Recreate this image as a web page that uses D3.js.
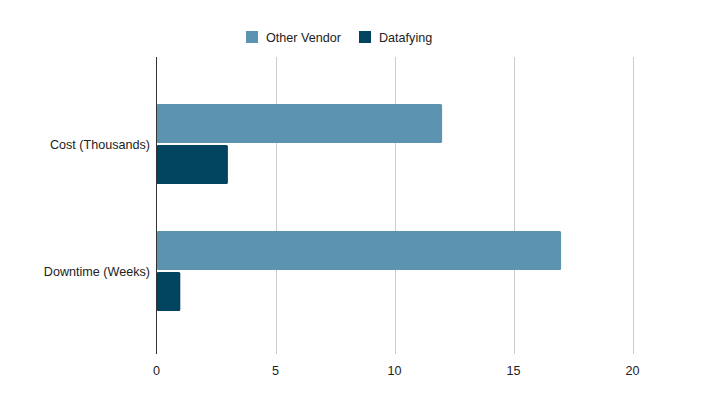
<!DOCTYPE html>
<html><head><meta charset="utf-8">
<script src="https://cdn.jsdelivr.net/npm/d3@7/dist/d3.min.js"></script>
<style>body{margin:0;background:#fff}svg{display:block;font-family:"Liberation Sans",Arial,sans-serif}</style>
</head><body><svg id="c" width="724" height="417"></svg>
<script>
const categories = ["Cost (Thousands)", "Downtime (Weeks)"];
const seriesNames = ["Other Vendor", "Datafying"];
const otherVendor = [12, 17];
const datafying = [3, 1];
const xTicks = [0, 5, 10, 15, 20];
const colors = ["#5b93b0", "#00445f"];
const fs = 12.6;

const svg = d3.select("#c");
const x = d3.scaleLinear().domain([0, 20]).range([156.5, 632.5]);
const y0 = d3.scaleBand().domain(categories).range([80.5, 334.5]);
const y1 = d3.scaleBand().domain(seriesNames).range([-40, 40]).paddingInner(0.05);
const plotTop = 57, plotBottom = 354;

svg.append("g").selectAll("line").data(xTicks.slice(1)).join("line")
  .attr("x1", d => Math.round(x(d)) + 0.5).attr("x2", d => Math.round(x(d)) + 0.5)
  .attr("y1", plotTop).attr("y2", plotBottom).attr("stroke", "#cccccc").attr("stroke-width", 1);

svg.append("g").selectAll("text").data(xTicks).join("text")
  .attr("x", d => x(d)).attr("y", 375).attr("text-anchor", "middle")
  .attr("font-size", fs).attr("fill", "#222").text(d => d);

const data = [otherVendor, datafying];
data.forEach((vals, si) => {
  svg.append("g").selectAll("rect").data(vals).join("rect")
    .attr("x", x(0))
    .attr("y", (d, i) => y0(categories[i]) + y0.bandwidth() / 2 + y1(seriesNames[si]))
    .attr("width", d => x(d) - x(0))
    .attr("height", y1.bandwidth())
    .attr("rx", 1.5)
    .attr("fill", colors[si]);
});

svg.append("line").attr("x1", x(0)).attr("x2", x(0)).attr("y1", plotTop).attr("y2", plotBottom)
  .attr("stroke", "#333").attr("stroke-width", 1);

svg.append("g").selectAll("text").data(categories).join("text")
  .attr("x", 150).attr("y", d => y0(d) + y0.bandwidth() / 2 + 4.5)
  .attr("text-anchor", "end").attr("font-size", fs).attr("fill", "#222").text(d => d);

const legX = [246, 359];
seriesNames.forEach((s, i) => {
  svg.append("rect").attr("x", legX[i]).attr("y", 31).attr("width", 12).attr("height", 12).attr("fill", colors[i]);
  svg.append("text").attr("x", legX[i] + 20).attr("y", 41.5).attr("font-size", fs).attr("fill", "#222").text(s);
});
</script></body></html>
